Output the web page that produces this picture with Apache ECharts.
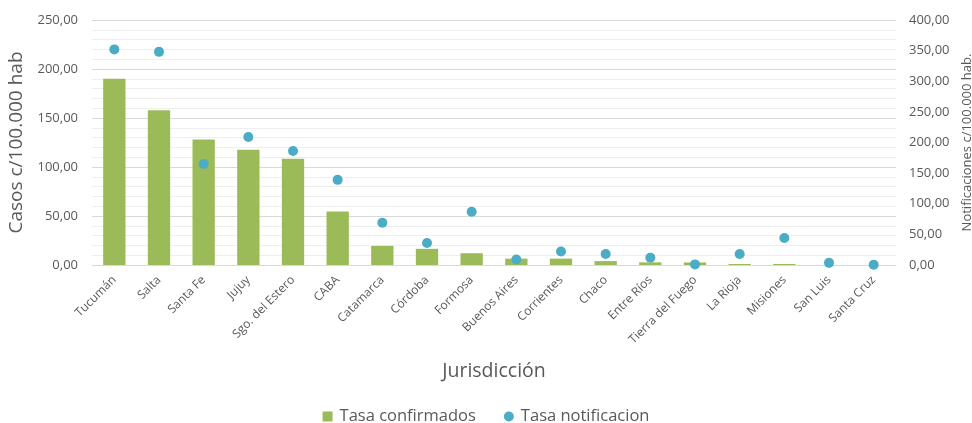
<!DOCTYPE html>
<html><head><meta charset="utf-8">
<script src="https://cdn.jsdelivr.net/npm/echarts@6/dist/echarts.min.js"></script>
<style>html,body{margin:0;padding:0;background:#fff}#c{width:972px;height:423px}</style>
</head><body><div id="c"></div>
<script>
const categories = ["Tucumán","Salta","Santa Fe","Jujuy","Sgo. del Estero","CABA","Catamarca","Córdoba","Formosa","Buenos Aires","Corrientes","Chaco","Entre Ríos","Tierra del Fuego","La Rioja","Misiones","San Luis","Santa Cruz"];
const tasaConfirmados = [190, 158, 128, 117.5, 108.5, 54.5, 19.5, 16.5, 12, 6.5, 6.5, 4, 2.7, 2.6, 1, 1, 0, 0];
const tasaNotificacion = [352, 348, 165, 209, 186, 139, 69, 36, 87, 9, 22, 18, 12, 1, 18, 44, 3.5, 0.5];

const fmt = v => v.toFixed(2).replace('.', ',');
const txt = '#595959';
const chart = echarts.init(document.getElementById('c'));
chart.setOption({
  animation: false,
  textStyle: { fontFamily: 'Open Sans' },
  grid: { left: 92, right: 76, top: 20, bottom: 158, containLabel: false, outerBoundsMode: 'none' },
  legend: {
    top: 403, left: 'center', itemWidth: 10, itemHeight: 10, itemGap: 28,
    textStyle: { color: txt, fontSize: 16.5, fontFamily: 'Open Sans', padding: [0, 0, 0, 2] },
    data: [{ name: 'Tasa confirmados', icon: 'rect' }, { name: 'Tasa notificacion', icon: 'circle' }]
  },
  xAxis: {
    type: 'category', data: categories,
    name: 'Jurisdicción', nameLocation: 'middle', nameGap: 96,
    nameTextStyle: { color: txt, fontSize: 19.5 },
    axisLine: { lineStyle: { color: '#d9d9d9' } },
    axisTick: { show: false },
    axisLabel: { rotate: 45, color: txt, fontSize: 12, interval: 0, margin: 13 }
  },
  yAxis: [{
    type: 'value', min: 0, max: 250, interval: 50,
    name: 'Casos c/100.000 hab', nameLocation: 'middle', nameGap: 52, nameRotate: 90,
    nameTextStyle: { color: txt, fontSize: 19 },
    axisLine: { show: false }, axisTick: { show: false },
    axisLabel: { color: txt, fontSize: 13, formatter: fmt, margin: 14 },
    splitLine: { lineStyle: { color: '#d9d9d9' } },
    minorTick: { show: false, splitNumber: 5 },
    minorSplitLine: { show: true, lineStyle: { color: '#eeeeee' } }
  }, {
    type: 'value', min: 0, max: 400, interval: 50,
    name: 'Notificaciones c/100.000 hab.', nameLocation: 'middle', nameGap: 59, nameRotate: 90,
    nameTextStyle: { color: txt, fontSize: 13 },
    axisLine: { show: false }, axisTick: { show: false },
    axisLabel: { color: txt, fontSize: 13, formatter: fmt, margin: 13 },
    splitLine: { show: false }
  }],
  series: [{
    name: 'Tasa confirmados', type: 'bar', data: tasaConfirmados, barWidth: '50%',
    itemStyle: { color: '#9BBB59' }, yAxisIndex: 0
  }, {
    name: 'Tasa notificacion', type: 'scatter', data: tasaNotificacion, yAxisIndex: 1,
    symbolSize: 10, itemStyle: { color: '#4BACC6', opacity: 1 }
  }]
});
</script></body></html>
